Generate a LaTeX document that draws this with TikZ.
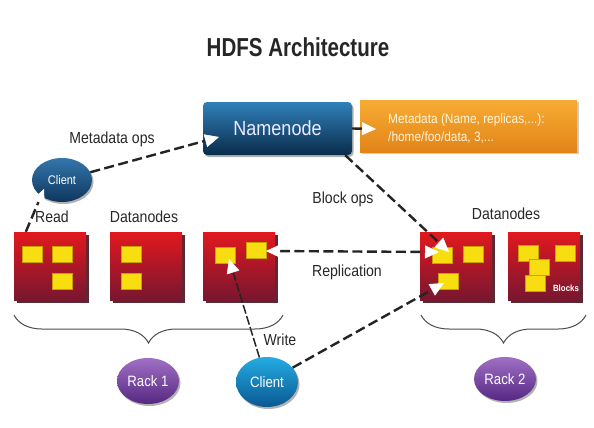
\documentclass[tikz,border=0pt]{standalone}
\usepackage{fontspec}
\setmainfont{Liberation Sans}[FakeStretch=0.88]
\newfontfamily\titlefont{Liberation Sans}[FakeStretch=0.79]
\usetikzlibrary{arrows.meta,shadows,decorations.pathreplacing,shapes.geometric}
\definecolor{dnTop}{RGB}{226,24,30}
\definecolor{dnBot}{RGB}{120,22,48}
\definecolor{dnShadow}{RGB}{70,20,30}
\definecolor{blkFill}{RGB}{248,222,16}
\definecolor{blkLine}{RGB}{200,160,0}
\definecolor{nnTop}{RGB}{48,128,186}
\definecolor{nnBot}{RGB}{10,44,74}
\definecolor{mdTop}{RGB}{246,172,52}
\definecolor{mdBot}{RGB}{226,132,24}
\definecolor{mdText}{RGB}{255,246,220}
\definecolor{cOneTop}{RGB}{52,118,172}
\definecolor{cOneBot}{RGB}{14,54,92}
\definecolor{cTwoTop}{RGB}{36,172,226}
\definecolor{cTwoBot}{RGB}{10,88,146}
\definecolor{rkTop}{RGB}{160,112,196}
\definecolor{rkBot}{RGB}{86,40,130}
\definecolor{lineCol}{RGB}{36,36,36}
\definecolor{labelCol}{RGB}{40,40,40}
\begin{document}
\begin{tikzpicture}[x=1pt,y=-1pt,
  dnbox/.style={rectangle, draw=none, minimum width=72pt, minimum height=68pt,
    top color=dnTop, bottom color=dnBot,
    drop shadow={shadow xshift=3pt, shadow yshift=-3pt, fill=dnShadow, opacity=0.9}},
  blk/.style={rectangle, fill=blkFill, draw=blkLine, line width=0.5pt,
    minimum width=20pt, minimum height=16pt, inner sep=0pt},
  ovalnode/.style={ellipse, draw=none, inner sep=0pt, text=white,
    drop shadow={shadow xshift=1.5pt, shadow yshift=-2pt, fill=black!60, opacity=0.5}},
  lbl/.style={font=\fontsize{16}{18}\selectfont, text=labelCol, inner sep=0pt},
  wtip/.tip={Triangle[length=14pt,width=13pt,fill=white,color=white,line width=0.5pt]},
  conn/.style={draw=lineCol, line width=2.4pt, dash pattern=on 10pt off 4.5pt},
  tipw/.style={-wtip},
  brc/.style={draw=black!70, line width=1pt, decorate,
    decoration={brace, mirror, amplitude=28pt}}
]
\useasboundingbox (0,0) rectangle (594,428);
\fill[white] (0,0) rectangle (594,428);

% title
\node[font=\titlefont\bfseries\fontsize{26}{30}\selectfont, text=black!85] (title) at (298,47) {HDFS Architecture};

% namenode and metadata
\node[rectangle, rounded corners=4pt, minimum width=149pt, minimum height=53pt,
  top color=nnTop, bottom color=nnBot, text=white!92!blue,
  font=\fontsize{20.5}{23}\selectfont,
  drop shadow={shadow xshift=1.5pt, shadow yshift=-2pt, fill=black!60, opacity=0.5}]
  (nn) at (277.5,128.5) {Namenode};
\node[rectangle, minimum width=217pt, minimum height=52pt, inner sep=0pt,
  top color=mdTop, bottom color=mdBot,
  drop shadow={shadow xshift=1.5pt, shadow yshift=-2pt, fill=black!50, opacity=0.4}]
  (md) at (468.5,126) {};
\node[anchor=west, align=left, text=mdText, inner sep=0pt,
  font=\fontsize{13.5}{18}\selectfont] (mdtext) at (388,128)
  {Metadata (Name, replicas,...):\\/home/foo/data, 3,...};

% clients and racks
\node[ovalnode, minimum width=60pt, minimum height=44pt, top color=cOneTop, bottom color=cOneBot,
  font=\fontsize{12.5}{14}\selectfont] (client1) at (62,180) {Client};
\node[ovalnode, minimum width=62pt, minimum height=50pt, top color=cTwoTop, bottom color=cTwoBot,
  font=\fontsize{15}{17}\selectfont] (client2) at (267,382) {Client};
\node[ovalnode, minimum width=62pt, minimum height=46pt, top color=rkTop, bottom color=rkBot,
  font=\fontsize{15}{17}\selectfont] (rack1) at (148,381) {Rack 1};
\node[ovalnode, minimum width=62pt, minimum height=44pt, top color=rkTop, bottom color=rkBot,
  font=\fontsize{15}{17}\selectfont] (rack2) at (505,379) {Rack 2};

% datanodes
\node[dnbox] (dn1) at (50,266) {};
\node[dnbox] (dn2) at (146,266) {};
\node[dnbox] (dn3) at (239,266) {};
\node[dnbox] (dn4) at (456,266) {};
\node[dnbox] (dn5) at (544,266) {};

% blocks
\node[blk] (b11) at (32,254) {};
\node[blk] (b12) at (62,254) {};
\node[blk] (b13) at (62,281) {};
\node[blk] (b21) at (131,254) {};
\node[blk] (b22) at (131,281) {};
\node[blk] (b31) at (225,255) {};
\node[blk] (b32) at (256,250) {};
\node[blk] (b41) at (442,255) {};
\node[blk] (b42) at (473,254) {};
\node[blk] (b43) at (448,281) {};
\node[blk] (b51) at (528,253) {};
\node[blk] (b52) at (565,253) {};
\node[blk] (b53) at (535,283) {};
\node[blk] (b54) at (539,267) {};
\node[text=white, font=\bfseries\fontsize{9}{10}\selectfont, inner sep=0pt] (blocks) at (566,288) {Blocks};

% labels
\node[lbl] (lmeta) at (112,139) {Metadata ops};
\node[lbl] (lread) at (52,217) {Read};
\node[lbl] (ldn1) at (144,217) {Datanodes};
\node[lbl] (lblock) at (343,199) {Block ops};
\node[lbl] (ldn2) at (506,214) {Datanodes};
\node[lbl] (lrep) at (347,272) {Replication};
\node[lbl] (lwrite) at (280,340) {Write};

% tip coordinates
\coordinate (nnIn) at (219,137);
\coordinate (mdIn) at (376,129);
\coordinate (readTip) at (44,189);
\coordinate (blockTip) at (449,252);
\coordinate (repL) at (266,251);
\coordinate (repR) at (439,252);
\coordinate (writeTip) at (229,259);
\coordinate (w2Tip) at (444,283);

% connectors
\draw[conn, tipw] (client1) -- (nnIn);
\draw[draw=lineCol, line width=2.4pt, tipw] (nn.east) -- (mdIn);
\draw[conn, tipw] ([xshift=12pt]dn1.north west) -- (readTip);
\draw[conn, tipw] ([xshift=-7pt]nn.south east) -- (blockTip);
\draw[conn, wtip-wtip] (repL) -- (repR);
\draw[draw=lineCol, line width=1.5pt, dash pattern=on 9pt off 2.5pt, tipw] (client2) -- (writeTip);
\draw[conn, tipw] (client2) -- (w2Tip);

% braces
\draw[brc] (14,315) -- (283,315);
\draw[brc] (421,315) -- (586,315);
\end{tikzpicture}
\end{document}
